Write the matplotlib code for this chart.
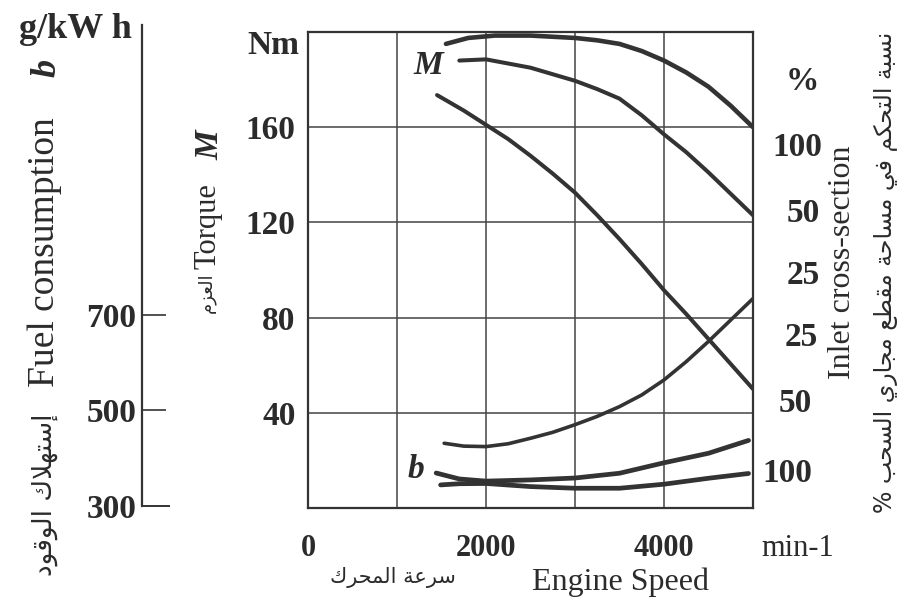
import matplotlib
matplotlib.use("Agg")
import matplotlib.pyplot as plt
from matplotlib.ticker import FixedLocator, FixedFormatter

# ---------------- data ----------------
rpm_m100 = [1550, 1800, 2100, 2500, 3000, 3250, 3500, 3750, 4000, 4250, 4500, 4750, 5000]
torque_m100 = [195, 197.5, 198.5, 198.5, 197.5, 196.5, 195, 192, 188, 183, 177, 169, 160]

rpm_m50 = [1700, 2000, 2500, 3000, 3250, 3500, 3750, 4000, 4250, 4500, 4750, 5000]
torque_m50 = [188, 188.5, 185, 179.5, 176, 172, 165, 157, 149.5, 141, 132, 123]

rpm_m25 = [1450, 1750, 2000, 2250, 2500, 2750, 3000, 3250, 3500, 3750, 4000, 4250,
           4500, 4750, 5000]
torque_m25 = [173.5, 167, 161, 155, 148, 140.5, 132.5, 123, 113, 102.5, 91.5, 81.5,
              71, 60.5, 50]

rpm_b25 = [1530, 1750, 2000, 2250, 2500, 2750, 3000, 3250, 3500, 3750, 4000, 4250,
           4500, 4750, 5000]
fuel_b25 = [431, 425, 424, 430, 441.5, 454, 470, 487.5, 508, 532.5, 564, 602.5,
            645, 690, 735]

rpm_b50 = [1440, 1700, 2000, 2500, 3000, 3500, 4000, 4500, 4950]
fuel_b50 = [368.5, 356, 351.5, 354, 358, 368, 390, 410, 437]

rpm_b100 = [1490, 1700, 2000, 2500, 3000, 3500, 4000, 4500, 4950]
fuel_b100 = [343.5, 346, 346.5, 340, 336.5, 336.5, 345, 357.5, 367.5]

speed_ticks = [0, 2000, 4000]
speed_grid = [1000, 2000, 3000, 4000]
torque_ticks = [40, 80, 120, 160]
fuel_ticks = [500, 700]
fuel_base_tick = [300]
inlet_labels = ["100", "50", "25", "25", "50", "100"]

# ---------------- minimal Arabic shaping ----------------
AR_FORMS = {
    'ا': ('\uFE8D', '\uFE8E', None, None),
    'إ': ('\uFE87', '\uFE88', None, None),
    'ب': ('\uFE8F', '\uFE90', '\uFE91', '\uFE92'),
    'ة': ('\uFE93', '\uFE94', None, None),
    'ت': ('\uFE95', '\uFE96', '\uFE97', '\uFE98'),
    'ج': ('\uFE9D', '\uFE9E', '\uFE9F', '\uFEA0'),
    'ح': ('\uFEA1', '\uFEA2', '\uFEA3', '\uFEA4'),
    'د': ('\uFEA9', '\uFEAA', None, None),
    'ر': ('\uFEAD', '\uFEAE', None, None),
    'ز': ('\uFEAF', '\uFEB0', None, None),
    'س': ('\uFEB1', '\uFEB2', '\uFEB3', '\uFEB4'),
    'ط': ('\uFEC1', '\uFEC2', '\uFEC3', '\uFEC4'),
    'ع': ('\uFEC9', '\uFECA', '\uFECB', '\uFECC'),
    'ف': ('\uFED1', '\uFED2', '\uFED3', '\uFED4'),
    'ق': ('\uFED5', '\uFED6', '\uFED7', '\uFED8'),
    'ك': ('\uFED9', '\uFEDA', '\uFEDB', '\uFEDC'),
    'ل': ('\uFEDD', '\uFEDE', '\uFEDF', '\uFEE0'),
    'م': ('\uFEE1', '\uFEE2', '\uFEE3', '\uFEE4'),
    'ن': ('\uFEE5', '\uFEE6', '\uFEE7', '\uFEE8'),
    'ه': ('\uFEE9', '\uFEEA', '\uFEEB', '\uFEEC'),
    'و': ('\uFEED', '\uFEEE', None, None),
    'ي': ('\uFEF1', '\uFEF2', '\uFEF3', '\uFEF4'),
}
LAM_ALEF = {'ا': ('\uFEFB', '\uFEFC'), 'إ': ('\uFEF9', '\uFEFA')}


def joins_forward(c):
    return c in AR_FORMS and AR_FORMS[c][2] is not None


def shape_ar(text):
    out = []
    i = 0
    n = len(text)
    while i < n:
        c = text[i]
        if c not in AR_FORMS:
            out.append(c)
            i += 1
            continue
        prev_j = i > 0 and joins_forward(text[i - 1])
        if c == 'ل' and i + 1 < n and text[i + 1] in LAM_ALEF:
            out.append(LAM_ALEF[text[i + 1]][1 if prev_j else 0])
            i += 2
            continue
        next_j = i + 1 < n and text[i + 1] in AR_FORMS and joins_forward(c)
        iso, fin, ini, med = AR_FORMS[c]
        if prev_j and next_j:
            g = med
        elif prev_j:
            g = fin
        elif next_j:
            g = ini
        else:
            g = iso
        out.append(g)
        i += 1
    return ''.join(reversed(out))


# ---------------- figure ----------------
W, H = 907, 606
fig = plt.figure(figsize=(W / 100, H / 100), dpi=100)
fig.patch.set_facecolor("white")

INK = "#2b2b2b"
LINE = "#333333"
SERIF = ["Liberation Serif", "DejaVu Serif"]
AR = ["DejaVu Sans"]


def px(x, y):
    return x / W, 1 - y / H


ax_l, ax_r, ax_t, ax_b = 308, 753, 32, 508
ax = fig.add_axes([ax_l / W, 1 - ax_b / H, (ax_r - ax_l) / W, (ax_b - ax_t) / H])
ax.set_xlim(0, 5000)
ax.set_ylim(0, 200)

for s in ax.spines.values():
    s.set_color(LINE)
    s.set_linewidth(1.6)

ax.xaxis.set_major_locator(FixedLocator(speed_ticks))
ax.set_xticklabels([str(v) for v in speed_ticks])
ax.yaxis.set_major_locator(FixedLocator(torque_ticks))
ax.set_yticklabels([str(v) for v in torque_ticks])
ax.tick_params(axis="both", which="both", length=0)
ax.tick_params(axis="x", pad=19)
ax.tick_params(axis="y", pad=9)
for lab in ax.get_xticklabels():
    lab.set_fontfamily(SERIF)
    lab.set_fontweight("bold")
    lab.set_fontsize(22)
    lab.set_color(INK)
for lab in ax.get_yticklabels():
    lab.set_fontfamily(SERIF)
    lab.set_fontweight("bold")
    lab.set_fontsize(24)
    lab.set_color(INK)

for gx in speed_grid:
    ax.axvline(gx, color="#444444", lw=1.1, zorder=1)
for gy in torque_ticks:
    ax.axhline(gy, color="#444444", lw=1.1, zorder=1)

kw_line = dict(color=LINE, solid_capstyle="round", solid_joinstyle="round", zorder=3)
ax.plot(rpm_m100, torque_m100, lw=3.3, **kw_line)
ax.plot(rpm_m50, torque_m50, lw=2.9, **kw_line)
ax.plot(rpm_m25, torque_m25, lw=2.9, **kw_line)

# fuel consumption axis (twin, drawn on a detached left spine)
ax2 = ax.twinx()
ax2.set_ylim(295, 1295)
ax2.spines["right"].set_visible(False)
ax2.spines["top"].set_visible(False)
ax2.spines["bottom"].set_visible(False)
ax2.spines["left"].set_visible(True)
ax2.spines["left"].set_position(("outward", (ax_l - 142) * 0.72))
ax2.spines["left"].set_bounds(300, 1310)
ax2.spines["left"].set_color(LINE)
ax2.spines["left"].set_linewidth(1.6)
ax2.yaxis.set_ticks_position("left")
ax2.yaxis.set_label_position("left")
ax2.yaxis.set_major_locator(FixedLocator(fuel_ticks))
ax2.yaxis.set_major_formatter(FixedFormatter([str(v) for v in fuel_ticks]))
ax2.yaxis.set_minor_locator(FixedLocator(fuel_base_tick))
ax2.yaxis.set_minor_formatter(FixedFormatter([str(v) for v in fuel_base_tick]))
ax2.tick_params(axis="y", which="major", direction="in", length=17, width=1.2,
                color=LINE, pad=4)
ax2.tick_params(axis="y", which="minor", direction="in", length=20, width=1.4,
                color=LINE, pad=4)
for lab in ax2.get_yticklabels(which="both"):
    lab.set_fontfamily(SERIF)
    lab.set_fontweight("bold")
    lab.set_fontsize(24)
    lab.set_color(INK)

ax2.plot(rpm_b25, fuel_b25, lw=2.6, **kw_line)
ax2.plot(rpm_b50, fuel_b50, lw=3.4, **kw_line)
ax2.plot(rpm_b100, fuel_b100, lw=3.4, **kw_line)


# ---------------- texts ----------------
def t(x, y, s, **kw):
    kw.setdefault("color", INK)
    fig.text(*px(x, y), s, **kw)


t(75, 30, "g/kW h", fontsize=26, fontweight="bold", family=SERIF, ha="center", va="center")
t(273, 45, "Nm", fontsize=24, fontweight="bold", family=SERIF, ha="center", va="center")
t(802, 82, "%", fontsize=24, fontweight="bold", family=SERIF, ha="center", va="center")
t(798, 548, "min-1", fontsize=22, family=SERIF, ha="center", va="center")

# left fuel label (rotated)
t(47, 68, "b", fontsize=26, fontweight="bold", style="italic", family=SERIF,
  rotation=90, ha="center", va="center")
t(45, 252, "Fuel consumption", fontsize=27, family=SERIF, rotation=90,
  ha="center", va="center")
t(45, 495, shape_ar("إستهلاك الوقود"), fontsize=19, family=AR, rotation=90,
  ha="center", va="center")

# torque label (rotated)
t(210, 145, "M", fontsize=24, fontweight="bold", style="italic", family=SERIF,
  rotation=90, ha="center", va="center")
t(208, 226, "Torque", fontsize=22, family=SERIF, rotation=90, ha="center", va="center")
t(206, 293, shape_ar("العزم"), fontsize=13, family=AR, rotation=90,
  ha="center", va="center")

# curve labels
t(428, 66, "M", fontsize=24, fontweight="bold", style="italic", family=SERIF,
  ha="center", va="center")
t(416, 470, "b", fontsize=24, fontweight="bold", style="italic", family=SERIF,
  ha="center", va="center")

# right inlet percentages
inlet_y = [147, 214, 276, 337, 404, 473]
inlet_x = [822, 820, 820, 818, 812, 812]
for lab, xx, yy in zip(inlet_labels, inlet_x, inlet_y):
    t(xx, yy, lab, fontsize=24, fontweight="bold", family=SERIF, ha="right", va="center")

t(842, 262, "Inlet cross-section", fontsize=23, family=SERIF, rotation=90,
  ha="center", va="center")
t(886, 272, shape_ar("نسبة التحكم في مساحة مقطع مجاري السحب %"), fontsize=17,
  family=AR, rotation=90, ha="center", va="center")

# bottom axis titles
t(620, 582, "Engine Speed", fontsize=23, family=SERIF, ha="center", va="center")
t(393, 578, shape_ar("سرعة المحرك"), fontsize=15, family=AR, ha="center", va="center")

fig.savefig("out.png", dpi=100, facecolor="white")
